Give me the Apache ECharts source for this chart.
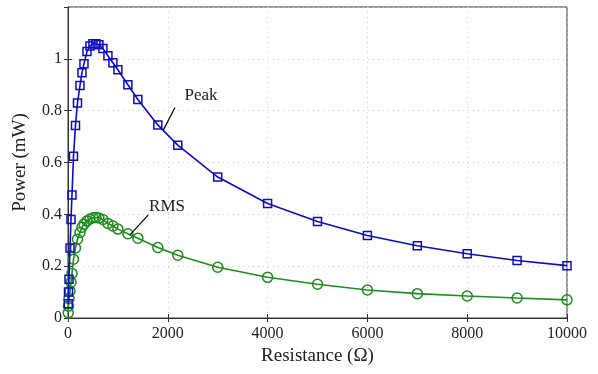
<!DOCTYPE html>
<html>
<head>
<meta charset="utf-8">
<script src="https://cdn.jsdelivr.net/npm/echarts@6/dist/echarts.min.js"></script>
<style>
  html, body { margin: 0; padding: 0; background: #fff; }
  #chart { width: 598px; height: 374px; }
</style>
</head>
<body>
<div id="chart"></div>
<script>
// resistance (ohm) at each measurement
const resistance = [5, 10, 20, 40, 60, 80, 110, 150, 190, 240, 280, 320, 380, 440, 500, 560, 620, 700, 800, 900, 1000, 1200, 1400, 1800, 2200, 3000, 4000, 5000, 6000, 7000, 8000, 9000, 10000]
// power in mW
const peakPower = [0.055, 0.1, 0.15, 0.27, 0.38, 0.475, 0.624, 0.743, 0.83, 0.897, 0.946, 0.981, 1.028, 1.05, 1.058, 1.058, 1.054, 1.04, 1.012, 0.985, 0.958, 0.9, 0.843, 0.745, 0.667, 0.544, 0.442, 0.372, 0.318, 0.279, 0.248, 0.222, 0.202]
const rmsPower = [0.02, 0.046, 0.075, 0.104, 0.138, 0.172, 0.227, 0.27, 0.304, 0.33, 0.35, 0.362, 0.374, 0.382, 0.387, 0.388, 0.386, 0.38, 0.365, 0.355, 0.343, 0.325, 0.308, 0.272, 0.242, 0.196, 0.157, 0.13, 0.108, 0.094, 0.085, 0.077, 0.07]

// annotation text + pointer line, in data coordinates
const peakNote = { text: "Peak", at: [2665, 0.859], from: [2144, 0.812], to: [1910, 0.725] }
const rmsNote = { text: "RMS", at: [1984, 0.429], from: [1609, 0.398], to: [1242, 0.321] }

const font = "Liberation Serif, Times New Roman, serif"
const blue = "#0c0cc4"
const green = "#1e8c1e"

const chart = echarts.init(document.getElementById("chart"))

const zip = (xs, ys) => xs.map((x, i) => [x, ys[i]])

const pointer = (note) => [[{ coord: note.from }, { coord: note.to }]]

const option = {
  backgroundColor: "#fff",
  animation: false,
  grid: {
    left: 68,
    right: 31,
    top: 7,
    bottom: 56,
    show: true,
    borderColor: "#333",
    borderWidth: 1,
  },
  xAxis: [
    {
      type: "value",
      min: 0,
      max: 10000,
      interval: 2000,
      name: "Resistance (Ω)",
      nameLocation: "middle",
      nameGap: 28,
      nameTextStyle: { fontFamily: font, fontSize: 19, color: "#222" },
      axisLine: { show: true, lineStyle: { color: "#333" } },
      axisTick: { inside: true, length: 4, lineStyle: { color: "#333" } },
      axisLabel: { fontFamily: font, fontSize: 16, color: "#222", margin: 8, formatter: (v) => String(v) },
      splitLine: { show: true, lineStyle: { color: "#cccccc", type: [1, 4] } },
    },
    {
      type: "value",
      min: 0,
      max: 10000,
      interval: 2000,
      position: "top",
      axisLine: { show: false },
      axisTick: { inside: true, length: 4, lineStyle: { color: "#333" } },
      axisLabel: { show: false },
      splitLine: { show: false },
    },
  ],
  yAxis: [
    {
      type: "value",
      min: 0,
      max: 1.2,
      interval: 0.2,
      name: "Power (mW)",
      nameLocation: "middle",
      nameGap: 38,
      nameTextStyle: { fontFamily: font, fontSize: 19, color: "#222" },
      axisLine: { show: true, lineStyle: { color: "#333" } },
      axisTick: { inside: true, length: 4, lineStyle: { color: "#333" } },
      axisLabel: { fontFamily: font, fontSize: 16, color: "#222", margin: 6, showMaxLabel: false },
      splitLine: { show: true, lineStyle: { color: "#cccccc", type: [1, 4] } },
    },
    {
      type: "value",
      min: 0,
      max: 1.2,
      interval: 0.2,
      position: "right",
      axisLine: { show: false },
      axisTick: { inside: true, length: 4, lineStyle: { color: "#333" } },
      axisLabel: { show: false },
      splitLine: { show: false },
    },
  ],
  series: [
    {
      name: "Peak",
      type: "line",
      data: zip(resistance, peakPower),
      symbol: "rect",
      symbolSize: 8,
      showAllSymbol: true,
      lineStyle: { color: blue, width: 1.6 },
      itemStyle: { color: "transparent", borderColor: blue, borderWidth: 1.5 },
      z: 3,
      markLine: {
        silent: true,
        symbol: "none",
        label: { show: false },
        lineStyle: { color: "#000", width: 1.2, type: "solid" },
        data: pointer(peakNote),
      },
    },
    {
      name: "RMS",
      type: "line",
      data: zip(resistance, rmsPower),
      symbol: "circle",
      symbolSize: 10,
      showAllSymbol: true,
      lineStyle: { color: green, width: 1.6 },
      itemStyle: { color: "transparent", borderColor: green, borderWidth: 1.5 },
      z: 2,
      markLine: {
        silent: true,
        symbol: "none",
        label: { show: false },
        lineStyle: { color: "#000", width: 1.2, type: "solid" },
        data: pointer(rmsNote),
      },
    },
  ],
}

chart.setOption(option)

// place note text at its data position
const noteText = (note) => {
  const [x, y] = chart.convertToPixel({ xAxisIndex: 0, yAxisIndex: 0 }, note.at)
  return {
    type: "text",
    x: x,
    y: y,
    style: {
      text: note.text,
      font: "17px " + font,
      fill: "#222",
      align: "center",
      verticalAlign: "middle",
    },
  }
}

chart.setOption({ graphic: [noteText(peakNote), noteText(rmsNote)] })
</script>
</body>
</html>
